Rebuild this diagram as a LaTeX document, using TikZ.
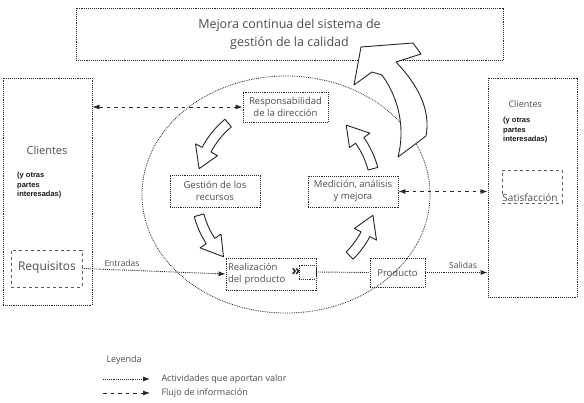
\documentclass[tikz,border=0pt]{standalone}
\usepackage{fontspec}
\setmainfont{Open Sans}
\newfontfamily\boldsans{Liberation Sans}
\usetikzlibrary{arrows.meta,calc}
\tikzset{
  txt/.style={text=black!70, align=center, font=\fontsize{9.5}{12}\selectfont},
  boxdot/.style={draw=black!85, densely dotted, line width=0.9pt},
  boxn/.style={boxdot, inner sep=0pt, txt},
  reqbox/.style={draw=black!65, dashed, line width=0.7pt, inner sep=0pt},
  infoflow/.style={draw=black!85, dash pattern=on 3.5pt off 4pt, line width=0.8pt, {Latex[length=7pt,width=5pt]}-{Latex[length=7pt,width=5pt]}},
  infoone/.style={draw=black!85, dash pattern=on 3.5pt off 4pt, line width=0.8pt, -{Latex[length=7pt,width=5pt]}},
  valueflow/.style={draw=black!85, densely dotted, line width=0.9pt, -{Latex[length=7pt,width=5pt]}},
  valueline/.style={draw=black!85, densely dotted, line width=0.9pt},
  blockarr/.style={draw=black!85, fill=white, line width=0.9pt, line join=round},
  smalltxt/.style={text=black!70, font=\fontsize{8.5}{10}\selectfont},
  legtxt/.style={text=black!70, font=\fontsize{9}{10}\selectfont},
  boldtxt/.style={text=black!90, align=left, font=\boldsans\bfseries\fontsize{7.5}{9.5}\selectfont, inner sep=0pt}
}
\newcommand\cyclearrow[2]{%
  \pgfmathsetmacro\ea{#2-13}%
  \draw[blockarr] ($(cc)+(#1:95)$) arc[start angle=#1, end angle=\ea, radius=95]
    -- ($(cc)+(\ea:102.5)$) -- ($(cc)+(#2:90)$) -- ($(cc)+(\ea:77.5)$)
    -- ($(cc)+(\ea:85)$) arc[start angle=\ea, end angle=#1, radius=85] -- cycle;}
\begin{document}
\begin{tikzpicture}[x=1pt,y=1pt]
\useasboundingbox (0,0) rectangle (584,-403);

% top box
\node[boxn, minimum width=427, minimum height=52, font=\fontsize{12.5}{18}\selectfont] (top) at (289.5,-34)
  {Mejora continua del sistema de\\gestión de la calidad};

% ellipse
\draw[boxdot, line width=0.8pt] (286,-194.5) ellipse [x radius=144, y radius=118.5];
\coordinate (cc) at (286,-192);

% big arrow to the top box
\draw[blockarr] (361,-47) -- (413,-43) -- (421,-54) -- (396,-62)
  .. controls (418,-85) and (431,-110) .. (426,-136) -- (398,-157)
  .. controls (405,-130) and (400,-100) .. (382,-75) -- (372,-72) -- (354,-85) -- cycle;

% customer boxes
\node[boxdot, minimum width=89, minimum height=227, inner sep=0pt] (left) at (47.5,-191.5) {};
\node[boxdot, minimum width=89, minimum height=219, inner sep=0pt] (right) at (532.5,-187.5) {};

\node[txt, font=\fontsize{11}{12}\selectfont] (clil) at (47,-150) {Clientes};
\node[boldtxt, anchor=north west] (ptl) at (17,-172) {(y otras\\partes\\interesadas)};
\node[reqbox, minimum width=71, minimum height=37] (req) at (46.5,-268.5) {};
\node[txt, font=\fontsize{12}{13}\selectfont] (reqt) at (47,-268) {Requisitos};

\node[txt, font=\fontsize{9}{10}\selectfont, anchor=west] (clir) at (505,-104) {Clientes};
\node[boldtxt, anchor=north west] (ptr) at (503,-117) {(y otras\\partes\\interesadas)};
\node[reqbox, minimum width=60, minimum height=33] (sat) at (532,-186.5) {};
\node[txt, font=\fontsize{10}{11}\selectfont, fill=white, inner sep=0.5pt] (satt) at (530,-198) {Satisfacción};

% process boxes
\node[boxn, minimum width=85, minimum height=30] (resp) at (285.5,-107) {Responsabilidad\\de la dirección};
\node[boxn, minimum width=90, minimum height=32] (gest) at (215,-191) {Gestión de los\\recursos};
\node[boxn, minimum width=90, minimum height=31] (medi) at (353,-191.5) {Medición, análisis\\y mejora};
\node[boxn, minimum width=90, minimum height=32, text width=86, align=left] (real) at (271,-274) {Realización\\del producto};
\node[boxn, minimum width=55, minimum height=29] (prod) at (397.5,-272.5) {Producto};
\node[boxdot, minimum width=17, minimum height=14, inner sep=0pt] (port) at (307.5,-272) {};
\node[text=black!85, font=\bfseries\fontsize{14}{14}\selectfont, inner sep=0pt] (chev) at (296,-272) {»};

% cycle arrows
\cyclearrow{130}{165}
\cyclearrow{195}{226}
\cyclearrow{-45}{-15}
\cyclearrow{15}{48}

% information flow
\draw[infoflow] (left.east |- resp.west) -- (resp.west);
\draw[infoflow] (medi.east) -- (right.west |- medi.east);

% value-adding activities
\draw[valueflow] (req.east) -- (real.west);
\draw[valueline] (port.east) -- (prod.west);
\draw[valueflow] (prod.east) -- (right.west |- prod.east);
\node[smalltxt] (entr) at (122,-263) {Entradas};
\node[smalltxt] (sali) at (463,-265) {Salidas};

% legend
\node[legtxt, anchor=west] (ley) at (103,-360) {Leyenda};
\coordinate (l1a) at (103,-379);
\coordinate (l1b) at (150,-379);
\coordinate (l2a) at (103,-393);
\coordinate (l2b) at (150,-393);
\draw[valueflow] (l1a) -- (l1b);
\draw[infoone] (l2a) -- (l2b);
\node[legtxt, anchor=west] (leg1) at (158,-379) {Actividades que aportan valor};
\node[legtxt, anchor=west] (leg2) at (158,-393) {Flujo de información};
\end{tikzpicture}
\end{document}
